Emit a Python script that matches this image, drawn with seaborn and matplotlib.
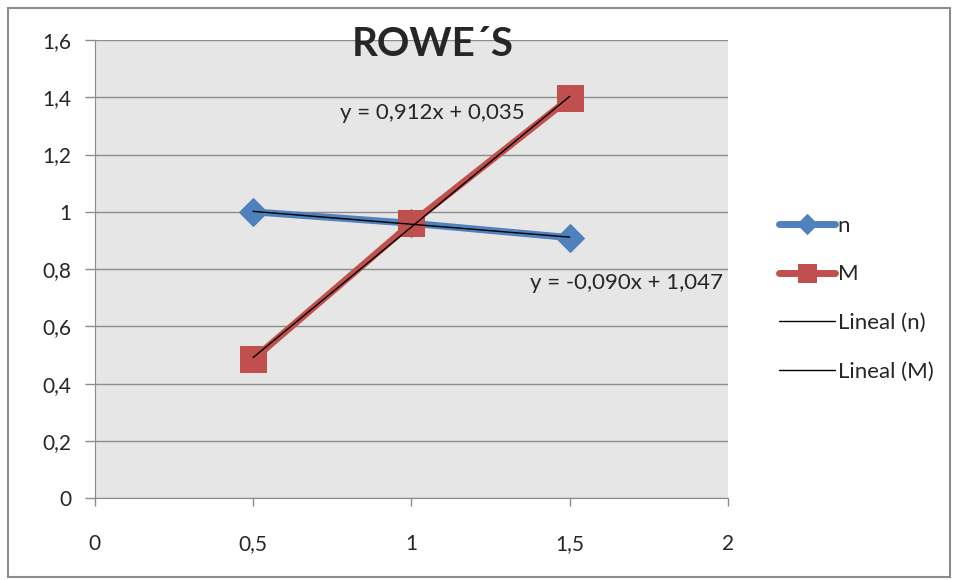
import numpy as np
import pandas as pd
import matplotlib
matplotlib.use("Agg")
import matplotlib.pyplot as plt
from matplotlib.ticker import FuncFormatter
from matplotlib.patches import Rectangle
import seaborn as sns

# data
x_vals = [0.5, 1.0, 1.5]
n_vals = [1.0, 0.96, 0.91]
m_vals = [0.485, 0.96, 1.397]

sns.set_style("white", {"axes.facecolor": "#e6e6e6"})
plt.rcParams['font.family'] = ['Lato', 'DejaVu Sans']

def comma(v, pos=None):
    s = f"{v:.1f}".rstrip('0').rstrip('.')
    return s.replace('.', ',')

def eq_text(slope, icpt):
    sign = '+' if icpt >= 0 else '-'
    return f"y = {slope:.3f}x {sign} {abs(icpt):.3f}".replace('.', ',')

df = pd.DataFrame({'x': x_vals, 'n': n_vals, 'M': m_vals})

fig = plt.figure(figsize=(9.58, 5.8), dpi=100)
ax = fig.add_axes([0.099, 0.141, 0.661, 0.790])

sns.lineplot(data=df, x='x', y='n', ax=ax, color='#4f81bd', linewidth=5,
             marker='D', markersize=14, markeredgecolor='#4f81bd', label='n')
sns.lineplot(data=df, x='x', y='M', ax=ax, color='#c0504d', linewidth=5,
             marker='s', markersize=19, markeredgecolor='#c0504d', label='M')

# linear trendlines
fits = {}
for col, lab in [('n', 'Lineal (n)'), ('M', 'Lineal (M)')]:
    slope, icpt = np.polyfit(df['x'], df[col], 1)
    fits[col] = (slope, icpt)
    xs = np.array([min(x_vals), max(x_vals)])
    ax.plot(xs, slope * xs + icpt, color='black', linewidth=1, label=lab)

ax.text(0.774, 1.345, eq_text(*fits['M']), fontsize=16, va='center', ha='left')
ax.text(1.374, 0.751, eq_text(*fits['n']), fontsize=16, va='center', ha='left')

ax.set_xlim(0, 2)
ax.set_ylim(0, 1.6)
ax.set_xticks([0, 0.5, 1, 1.5, 2])
ax.set_yticks(np.arange(0, 1.61, 0.2))
ax.xaxis.set_major_formatter(FuncFormatter(comma))
ax.yaxis.set_major_formatter(FuncFormatter(comma))
ax.grid(axis='y', color='#8c8c8c', linewidth=1)
ax.set_axisbelow(True)
ax.tick_params(axis='x', length=6, width=1, color='#8c8c8c', pad=20, labelsize=15)
ax.tick_params(axis='y', length=7, width=1, color='#8c8c8c', pad=10, labelsize=15)
ax.tick_params(bottom=True, left=True)
for side in ['top', 'right']:
    ax.spines[side].set_visible(False)
for side in ['left', 'bottom']:
    ax.spines[side].set_color('#8c8c8c')
ax.set_xlabel('')
ax.set_ylabel('')

ax.legend_.remove()
handles, labels = ax.get_legend_handles_labels()
fig.legend(handles, labels, loc='upper left', bbox_to_anchor=(0.792, 0.662),
           frameon=False, fontsize=16, handlelength=2.55, handletextpad=0.1,
           labelspacing=1.28, markerscale=0.7)

fig.text(0.452, 0.924, 'ROWE´S', fontsize=29, fontweight='bold', ha='center', va='center')

fig.patches.append(Rectangle((0.008, 0.005), 0.984, 0.982, transform=fig.transFigure,
                             fill=False, edgecolor='#8c8c8c', linewidth=1.5))

fig.savefig('out.png', dpi=100)
